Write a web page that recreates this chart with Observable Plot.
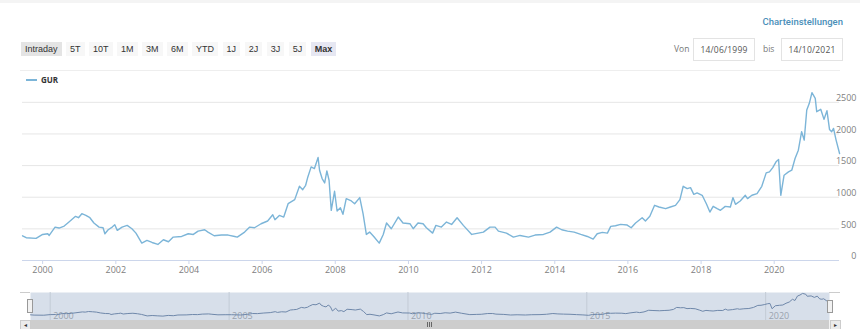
<!DOCTYPE html>
<html><head><meta charset="utf-8">
<script src="https://cdn.jsdelivr.net/npm/d3@7"></script>
<script src="https://cdn.jsdelivr.net/npm/@observablehq/plot@0.6"></script>
<style>
body{margin:0;width:860px;height:329px;overflow:hidden;background:#fff;font-family:"Open Sans",sans-serif;position:relative}
.a{position:absolute}
#topbar{left:0;top:0;width:860px;height:3px;background:#f4f4f4}
#settings{right:17px;top:15px;font-family:Roboto,sans-serif;font-weight:500;font-size:9.5px;color:#4a8fb9;line-height:14px}
#buttons{left:21px;top:42px;height:14px;display:flex;gap:4.5px}
.btn{font-family:"Liberation Sans",Arial,sans-serif;font-size:9px;line-height:14px;height:14px;padding:0 4px;color:#333;background:#f7f7f7}
.btn.intra{background:#e4e4e4}
.btn.sel{background:#e6e7f2;font-weight:bold}
.lbl{font-size:8.5px;color:#777;top:43px;line-height:12px}
.box{top:38px;height:21px;width:60px;border:1px solid #e3e3e3;font-size:8.5px;color:#555;line-height:21px;text-align:center;letter-spacing:0.2px;box-sizing:content-box}
#sep{left:20px;top:70px;width:820px;height:1px;background:#eeeeee}
#legend{left:26px;top:74px;font-size:8px;font-weight:bold;color:#333;line-height:12px;display:flex;align-items:center}
#legend .sw{display:inline-block;width:11px;height:1.5px;background:#7cb5d8;margin-right:4px}
#main{left:0;top:84px}
#nav{left:0;top:288px}
.scr{top:320px;height:9px}
.grip{top:322px;width:1px;height:5px;background:#666}
</style></head><body>
<div class="a" id="topbar"></div>
<div class="a" id="settings">Charteinstellungen</div>
<div class="a" id="buttons"></div>
<div class="a lbl" style="left:674px">Von</div>
<div class="a box" style="left:693px">14/06/1999</div>
<div class="a lbl" style="left:763px">bis</div>
<div class="a box" style="left:781px">14/10/2021</div>
<div class="a" id="sep"></div>
<div class="a" id="legend"><span class="sw"></span>GUR</div>
<div class="a" id="main"></div>
<div class="a" id="nav"></div>
<div class="a scr" style="left:20px;width:820px;background:#f2f2f2"></div>
<div class="a scr" style="left:30px;width:799px;background:#cdcdcd"></div>
<div class="a scr" style="left:20px;width:9px;background:#ebebeb;border:0.5px solid #ccc;font-size:6px;color:#333;text-align:center;line-height:9px">&#9666;</div>
<div class="a scr" style="left:830px;width:9px;background:#ebebeb;border:0.5px solid #ccc;font-size:6px;color:#333;text-align:center;line-height:9px">&#9656;</div>
<div class="a grip" style="left:427px"></div>
<div class="a grip" style="left:429px"></div>
<div class="a grip" style="left:431px"></div>
<div class="a" style="left:20px;top:292px;width:10px;height:1px;background:#ccc"></div>
<div class="a" style="left:829px;top:292px;width:11px;height:1px;background:#ccc"></div>
<div class="a" style="left:27px;top:299px;width:4px;height:12px;background:#f2f2f2;border:1px solid #999"></div>
<div class="a" style="left:827px;top:300px;width:4px;height:11px;background:#f2f2f2;border:1px solid #999"></div>
<script>
const buttonLabels = ["Intraday","5T","10T","1M","3M","6M","YTD","1J","2J","3J","5J","Max"];
const years = [1999.45,1999.55,1999.82,2000.0,2000.14,2000.18,2000.34,2000.45,2000.59,2000.72,2000.9,2000.98,2001.07,2001.18,2001.29,2001.4,2001.54,2001.65,2001.7,2001.79,2001.9,2001.97,2002.04,2002.17,2002.31,2002.44,2002.55,2002.71,2002.85,2002.99,2003.15,2003.3,2003.44,2003.57,2003.8,2003.98,2004.12,2004.25,2004.43,2004.52,2004.69,2004.89,2005.07,2005.25,2005.32,2005.52,2005.66,2005.79,2005.97,2006.15,2006.29,2006.35,2006.47,2006.59,2006.71,2006.8,2006.89,2007.02,2007.11,2007.19,2007.25,2007.34,2007.43,2007.53,2007.57,2007.64,2007.71,2007.77,2007.83,2007.89,2007.98,2008.05,2008.14,2008.21,2008.3,2008.44,2008.53,2008.67,2008.76,2008.85,2008.94,2009.05,2009.2,2009.31,2009.4,2009.53,2009.72,2009.85,2010.04,2010.13,2010.26,2010.4,2010.49,2010.66,2010.75,2010.9,2011.04,2011.18,2011.33,2011.5,2011.73,2011.91,2012.05,2012.23,2012.37,2012.46,2012.68,2012.87,2013.05,2013.28,2013.46,2013.69,2013.87,2014.05,2014.19,2014.35,2014.53,2014.71,2014.89,2015.05,2015.16,2015.3,2015.44,2015.53,2015.66,2015.8,2015.98,2016.09,2016.21,2016.39,2016.48,2016.6,2016.73,2016.85,2017.03,2017.16,2017.3,2017.42,2017.51,2017.62,2017.71,2017.8,2017.89,2018.03,2018.15,2018.24,2018.33,2018.44,2018.53,2018.66,2018.8,2018.87,2018.94,2019.07,2019.21,2019.27,2019.39,2019.53,2019.66,2019.78,2019.87,2019.96,2020.05,2020.12,2020.18,2020.27,2020.39,2020.48,2020.57,2020.66,2020.75,2020.82,2020.89,2020.96,2021.03,2021.12,2021.16,2021.27,2021.36,2021.44,2021.51,2021.57,2021.62,2021.69,2021.785];
const values = [391,360,349,412,423,396,528,513,544,608,698,676,740,713,676,592,528,518,423,486,528,565,476,528,555,502,433,275,317,285,254,328,296,370,380,423,412,465,486,449,391,402,402,380,370,449,528,518,581,624,724,645,713,687,898,930,962,1173,1120,1189,1321,1480,1453,1628,1427,1295,1226,1416,1268,793,1094,782,835,729,978,941,898,994,740,412,449,380,275,412,592,502,687,592,581,502,592,581,518,433,555,528,608,570,676,555,412,433,449,528,528,465,433,370,396,370,402,412,449,528,486,465,449,412,380,338,423,444,433,539,550,571,560,518,592,676,624,698,872,846,819,846,872,962,1173,1136,1152,1046,1068,1031,888,766,856,819,793,856,846,994,888,941,1031,978,1031,1057,1173,1385,1400,1469,1559,1596,1031,1348,1400,1427,1612,1744,2035,1903,2378,2484,2653,2563,2352,2389,2230,2368,2072,2035,2088,1903,1691];
const yTicks = [0,500,1000,1500,2000,2500];
const xTickYears = [2000,2002,2004,2006,2008,2010,2012,2014,2016,2018,2020];
const navTickYears = [2000,2005,2010,2015,2020];
const rangeStart = "1999-06-14", rangeEnd = "2021-10-14";

const bwrap = document.getElementById("buttons");
buttonLabels.forEach((t,i)=>{
  const d=document.createElement("div");
  d.className="btn"+(i===0?" intra":"")+(t==="Max"?" sel":"");
  d.textContent=t; bwrap.appendChild(d);
});

const decToDate = y => { const f=Math.floor(y); return new Date(Date.UTC(f,0,1) + (y-f)*365.25*864e5); };
const data = years.map((y,i)=>({date:decToDate(y), value:values[i]}));
const xDomain = [new Date(rangeStart), new Date(rangeEnd)];
const xTicks = xTickYears.map(y=>new Date(Date.UTC(y,0,1)));
const navTicks = navTickYears.map(y=>new Date(Date.UTC(y,0,1)));
const lineColor = "#7cb5d8";

const main = Plot.plot({
  width:860, height:196, marginTop:2, marginBottom:20, marginLeft:22, marginRight:21,
  x:{type:"utc", domain:xDomain},
  y:{domain:[0,2750]},
  style:{fontFamily:"'Open Sans',sans-serif", fontSize:"9px", color:"#808080", background:"transparent"},
  marks:[
    Plot.gridY(yTicks, {stroke:"#e6e6e6", strokeOpacity:1}),
    Plot.ruleY([0], {stroke:"#ccd6eb"}),
    Plot.axisY(yTicks, {anchor:"right", tickSize:0, tickPadding:17, textAnchor:"end", dy:-4, fill:"#808080", tickFormat:d=>String(d), label:null}),
    Plot.axisX(xTicks, {anchor:"bottom", tickSize:4, tickPadding:2, stroke:"#ccd6eb", fill:"#808080", tickFormat:d3.utcFormat("%Y"), label:null}),
    Plot.line(data, {x:"date", y:"value", stroke:lineColor, strokeWidth:1.4})
  ]
});
document.getElementById("main").appendChild(main);

const nav = Plot.plot({
  width:860, height:41, marginTop:4, marginBottom:9, marginLeft:30, marginRight:31,
  x:{type:"utc", domain:xDomain, axis:null},
  y:{domain:[-210,2750], axis:null},
  style:{fontFamily:"'Open Sans',sans-serif", fontSize:"9px", background:"transparent"},
  marks:[
    Plot.frame({fill:"#d7dfea", stroke:null}),
    Plot.ruleX(navTicks, {stroke:"#c3cbd6"}),
    Plot.text(navTicks, {x:d=>d, text:d=>d3.utcFormat("%Y")(d), frameAnchor:"bottom", lineAnchor:"bottom", textAnchor:"start", dx:3, dy:-2, fill:"#9aa3ae"}),
    Plot.line(data, {x:"date", y:"value", stroke:"#6f88aa", strokeWidth:1})
  ]
});
document.getElementById("nav").appendChild(nav);
</script>
</body></html>
